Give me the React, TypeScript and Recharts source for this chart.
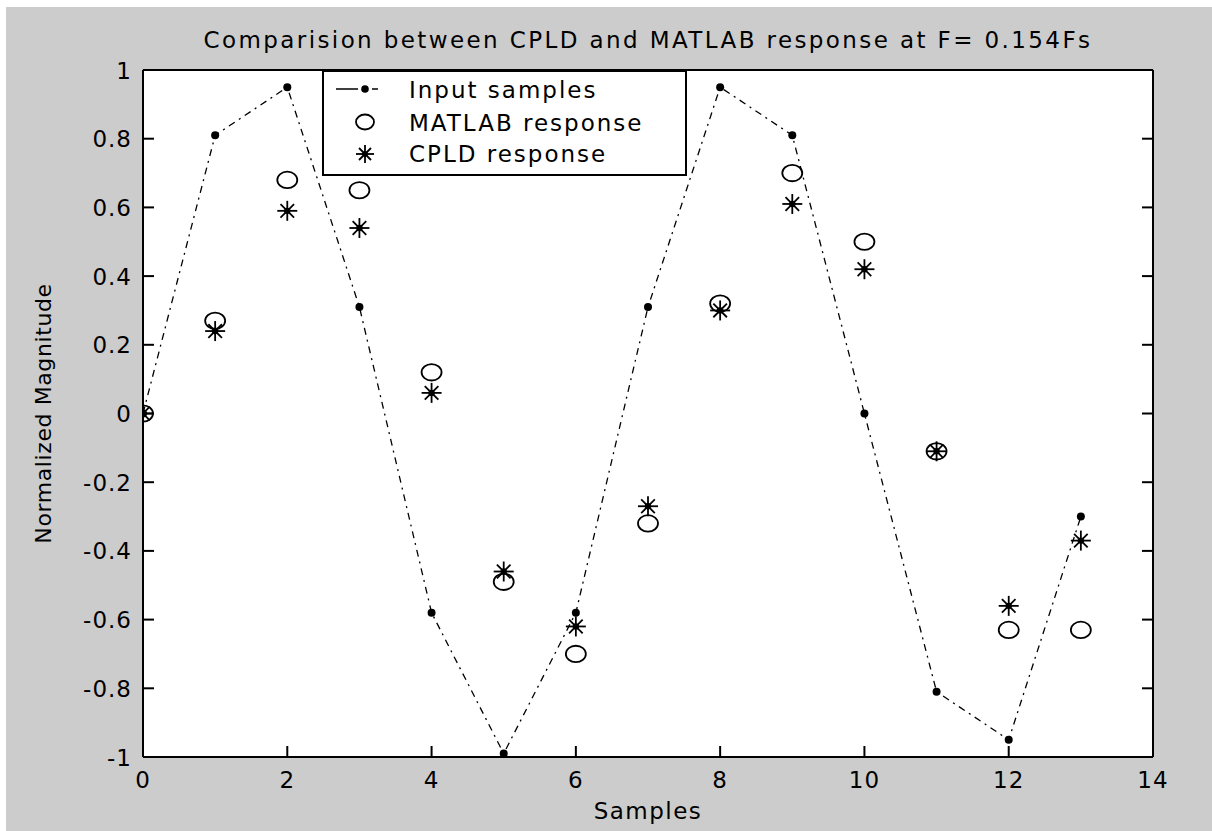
import React from 'react';
import { ScatterChart, Scatter, XAxis, YAxis, CartesianGrid } from 'recharts';

const samples = [0, 1, 2, 3, 4, 5, 6, 7, 8, 9, 10, 11, 12, 13];
const inputSamples = [0, 0.81, 0.95, 0.31, -0.58, -0.99, -0.58, 0.31, 0.95, 0.81, 0, -0.81, -0.95, -0.3];
const matlabResponse = [0, 0.27, 0.68, 0.65, 0.12, -0.49, -0.7, -0.32, 0.32, 0.7, 0.5, -0.11, -0.63, -0.63];
const cpldResponse = [0, 0.24, 0.59, 0.54, 0.06, -0.46, -0.62, -0.27, 0.3, 0.61, 0.42, -0.11, -0.56, -0.37];

const xTicks = [0, 2, 4, 6, 8, 10, 12, 14];
const xTickLabels = ['0', '2', '4', '6', '8', '10', '12', '14'];
const yTicks = [-1, -0.8, -0.6, -0.4, -0.2, 0, 0.2, 0.4, 0.6, 0.8, 1];
const yTickLabels = ['-1', '-0.8', '-0.6', '-0.4', '-0.2', '0', '0.2', '0.4', '0.6', '0.8', '1'];

const titleText = 'Comparision between CPLD and MATLAB response at F= 0.154Fs';
const xLabelText = 'Samples';
const yLabelText = 'Normalized Magnitude';
const legendLabels = ['Input samples', 'MATLAB response', 'CPLD response'];

const inputData = samples.map((x, i) => ({ x, y: inputSamples[i] }));
const matlabData = samples.map((x, i) => ({ x, y: matlabResponse[i] }));
const cpldData = samples.map((x, i) => ({ x, y: cpldResponse[i] }));

const FONT = '"DejaVu Sans", "Liberation Sans", Arial, sans-serif';
const TICK = 11;

const labelFor = (vals: number[], labels: string[], v: number) => {
  const i = vals.findIndex((t) => Math.abs(t - v) < 1e-9);
  return i >= 0 ? labels[i] : String(v);
};

const BottomTick = (props: any) => {
  const { x, y, payload } = props;
  return (
    <g>
      <line x1={x} y1={y} x2={x} y2={y - TICK} stroke="#000" strokeWidth={2} />
      <text x={x} y={y + 31} textAnchor="middle" fontFamily={FONT} fontSize={23} letterSpacing={1} fill="#000">
        {labelFor(xTicks, xTickLabels, payload.value)}
      </text>
    </g>
  );
};
const TopTick = (props: any) => {
  const { x, y } = props;
  return <line x1={x} y1={y} x2={x} y2={y + TICK} stroke="#000" strokeWidth={2} />;
};
const LeftTick = (props: any) => {
  const { x, y, payload } = props;
  return (
    <g>
      <line x1={x} y1={y} x2={x + TICK} y2={y} stroke="#000" strokeWidth={2} />
      <text x={x - 11} y={y + 8.5} textAnchor="end" fontFamily={FONT} fontSize={23} letterSpacing={1} fill="#000">
        {labelFor(yTicks, yTickLabels, payload.value)}
      </text>
    </g>
  );
};
const RightTick = (props: any) => {
  const { x, y } = props;
  return <line x1={x} y1={y} x2={x - TICK} y2={y} stroke="#000" strokeWidth={2} />;
};

const DotShape = (props: any) => {
  const { cx, cy } = props;
  return <circle cx={cx} cy={cy} r={4} fill="#000" />;
};
const CircleShape = (props: any) => {
  const { cx, cy } = props;
  return <ellipse cx={cx} cy={cy} rx={10} ry={8.2} fill="none" stroke="#000" strokeWidth={1.8} />;
};
const StarShape = (props: any) => {
  const { cx, cy } = props;
  const s = 10;
  const d = 6.8;
  return (
    <g stroke="#000" strokeWidth={1.8}>
      <line x1={cx - s} y1={cy} x2={cx + s} y2={cy} />
      <line x1={cx} y1={cy - s} x2={cx} y2={cy + s} />
      <line x1={cx - d} y1={cy - d} x2={cx + d} y2={cy + d} />
      <line x1={cx - d} y1={cy + d} x2={cx + d} y2={cy - d} />
      <circle cx={cx} cy={cy} r={3.2} fill="#000" stroke="none" />
    </g>
  );
};

const YLabel = (props: any) => {
  const { viewBox } = props;
  const cy = viewBox.y + viewBox.height / 2;
  const cx = 45;
  return (
    <text
      x={cx}
      y={cy}
      transform={`rotate(-90 ${cx} ${cy})`}
      textAnchor="middle"
      fontFamily={FONT}
      fontSize={22}
      letterSpacing={0.6}
      fill="#000"
    >
      {yLabelText}
    </text>
  );
};
const XLabel = (props: any) => {
  const { viewBox } = props;
  const cx = viewBox.x + viewBox.width / 2;
  return (
    <text x={cx} y={viewBox.y + 62} textAnchor="middle" fontFamily={FONT} fontSize={23} letterSpacing={1.5} fill="#000">
      {xLabelText}
    </text>
  );
};

const Legend = () => (
  <svg
    width={365}
    height={106}
    style={{ position: 'absolute', left: 316, top: 63, overflow: 'visible' }}
  >
    <rect x={1} y={1} width={363} height={104} fill="#fff" stroke="#000" strokeWidth={2} />
    <line x1={14} y1={19} x2={56} y2={19} stroke="#000" strokeWidth={1.5} strokeDasharray="22 6 2 6 6" />
    <circle cx={43} cy={19} r={3.8} fill="#000" />
    <ellipse cx={43} cy={52} rx={9} ry={7.5} fill="none" stroke="#000" strokeWidth={1.8} />
    <g stroke="#000" strokeWidth={1.8}>
      <line x1={34} y1={84} x2={52} y2={84} />
      <line x1={43} y1={75} x2={43} y2={93} />
      <line x1={37} y1={78} x2={49} y2={90} />
      <line x1={37} y1={90} x2={49} y2={78} />
      <circle cx={43} cy={84} r={2.8} fill="#000" stroke="none" />
    </g>
    {legendLabels.map((t, i) => (
      <text key={t} x={87} y={[28, 61, 92][i]} fontFamily={FONT} fontSize={23} letterSpacing={2} fill="#000">
        {t}
      </text>
    ))}
  </svg>
);

export default function App() {
  return (
    <div style={{ position: 'absolute', left: 0, top: 0, width: 1212, height: 831, background: '#fff' }}>
      <div
        style={{ position: 'absolute', left: 6, top: 7, width: 1206, height: 824, background: '#cccccc' }}
      >
        <div
          style={{
            position: 'absolute',
            left: 137,
            width: 1010,
            top: 20,
            textAlign: 'center',
            fontFamily: FONT,
            fontSize: 23,
            letterSpacing: '2.4px',
            lineHeight: '26px',
            color: '#000',
            whiteSpace: 'nowrap',
          }}
        >
          {titleText}
        </div>
        <ScatterChart width={1206} height={824} margin={{ top: 0, right: 0, bottom: 0, left: 0 }}>
          <CartesianGrid horizontal={false} vertical={false} fill="#ffffff" fillOpacity={1} />
          <XAxis
            xAxisId="bottom"
            dataKey="x"
            type="number"
            domain={[0, 14]}
            ticks={xTicks}
            interval={0}
            height={74}
            orientation="bottom"
            tickSize={0}
            tickMargin={0}
            tickLine={false}
            axisLine={{ stroke: '#000', strokeWidth: 2 }}
            tick={<BottomTick />}
            label={<XLabel />}
            allowDataOverflow
          />
          <XAxis
            xAxisId="top"
            type="number"
            domain={[0, 14]}
            ticks={xTicks}
            interval={0}
            height={63}
            orientation="top"
            tickSize={0}
            tickMargin={0}
            tickLine={false}
            axisLine={{ stroke: '#000', strokeWidth: 2 }}
            tick={<TopTick />}
            allowDataOverflow
          />
          <YAxis
            yAxisId="left"
            dataKey="y"
            type="number"
            domain={[-1, 1]}
            ticks={yTicks}
            interval={0}
            width={137}
            orientation="left"
            tickSize={0}
            tickMargin={0}
            tickLine={false}
            axisLine={{ stroke: '#000', strokeWidth: 2 }}
            tick={<LeftTick />}
            label={<YLabel />}
            allowDataOverflow
          />
          <YAxis
            yAxisId="right"
            type="number"
            domain={[-1, 1]}
            ticks={yTicks}
            interval={0}
            width={59}
            orientation="right"
            tickSize={0}
            tickMargin={0}
            tickLine={false}
            axisLine={{ stroke: '#000', strokeWidth: 2 }}
            tick={<RightTick />}
            allowDataOverflow
          />
          <Scatter
            name="MATLAB response"
            data={matlabData}
            xAxisId="bottom"
            yAxisId="left"
            shape={<CircleShape />}
            isAnimationActive={false}
          />
          <Scatter
            name="CPLD response"
            data={cpldData}
            xAxisId="bottom"
            yAxisId="left"
            shape={<StarShape />}
            isAnimationActive={false}
          />
          <Scatter
            name="Input samples"
            data={inputData}
            xAxisId="bottom"
            yAxisId="left"
            shape={<DotShape />}
            line={{ stroke: '#000', strokeWidth: 1.3, strokeDasharray: '7 5 2 5' }}
            lineType="joint"
            isAnimationActive={false}
          />
        </ScatterChart>
        <Legend />
      </div>
    </div>
  );
}
